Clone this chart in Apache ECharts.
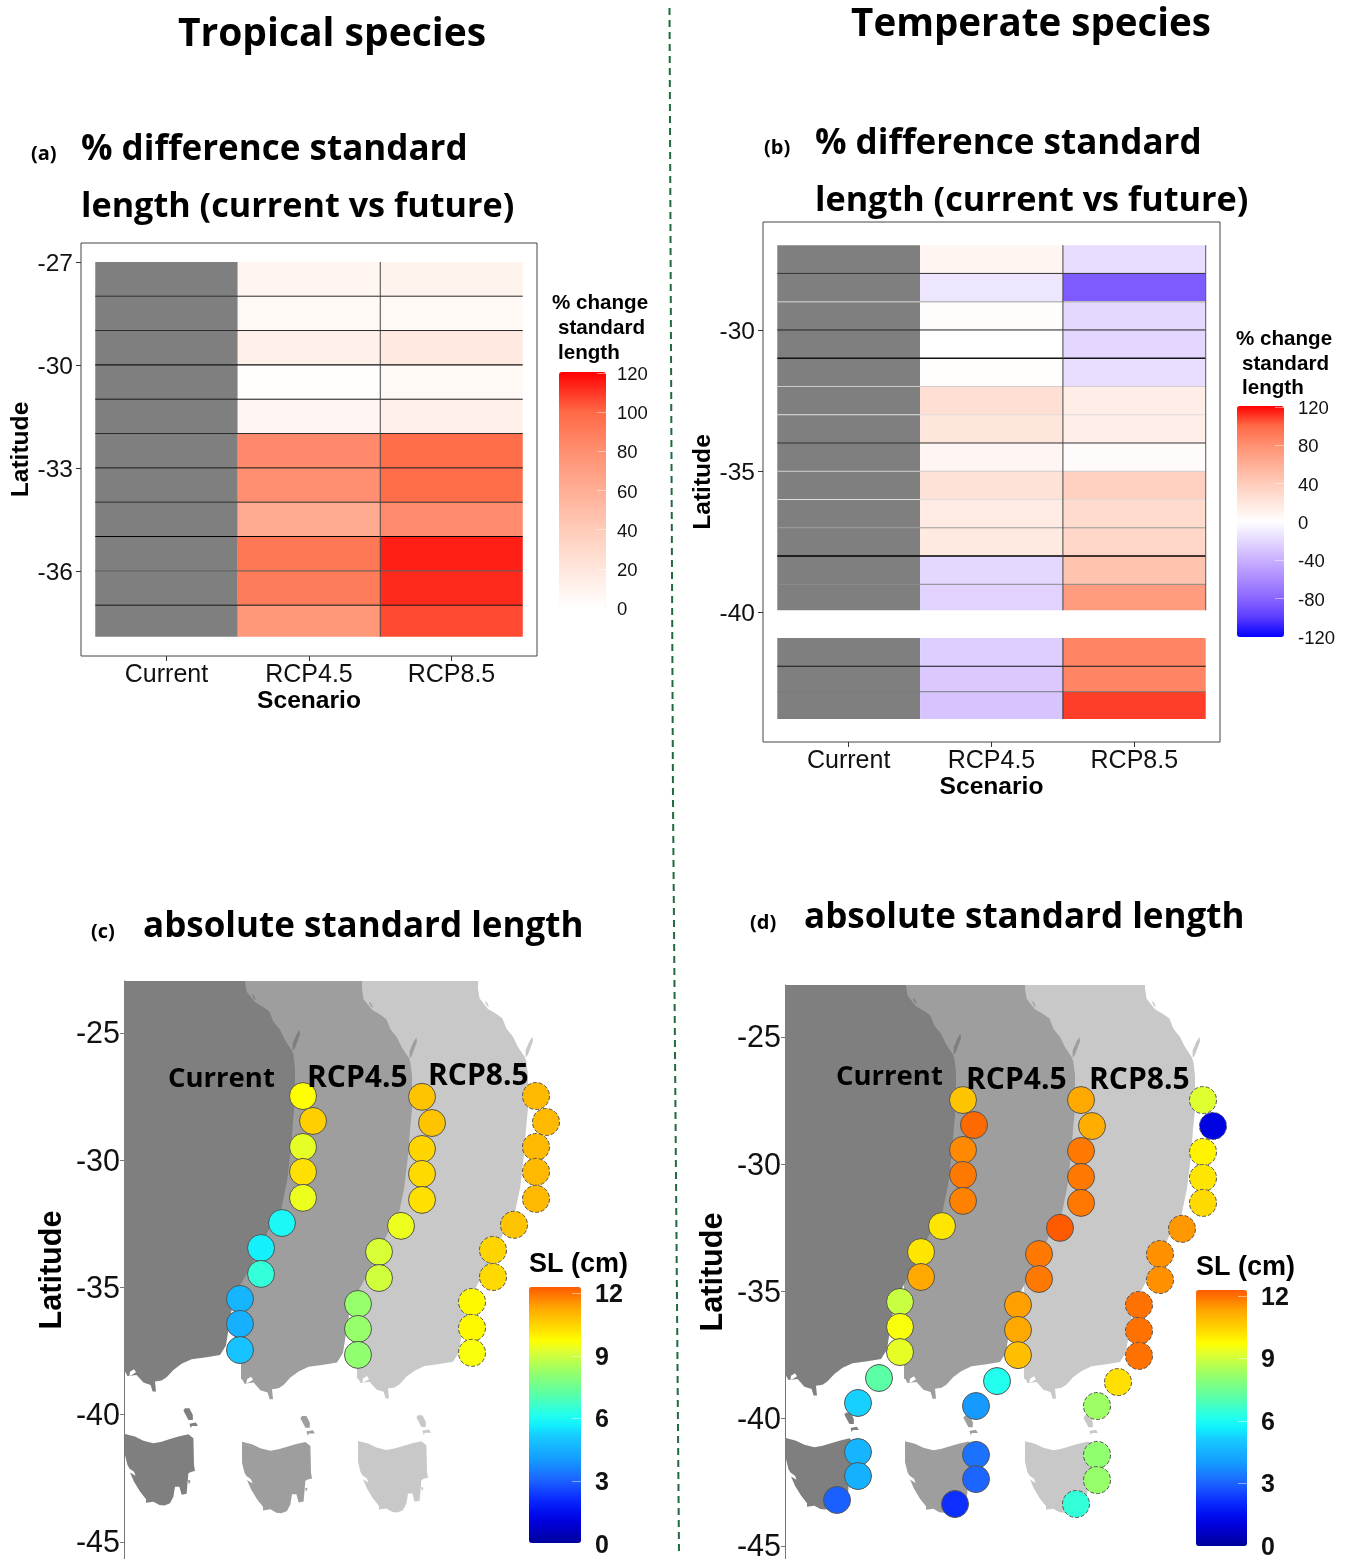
<!DOCTYPE html>
<html><head><meta charset="utf-8">
<style>html,body{margin:0;padding:0;background:#fff}#c{width:1348px;height:1559px}</style>
<script src="https://cdn.jsdelivr.net/npm/echarts@6/dist/echarts.min.js"></script>
</head><body><div id="c"></div>
<script>
// ---------- DATA ----------
const scenarios = ['Current', 'RCP4.5', 'RCP8.5'];
// panel (a) rows
const latEdgesA = [-27,-28,-29,-30,-31,-32,-33,-34,-35,-36,-37,-37.92];
const a45 = [8,5,12,1,7,83,80,62,92,90,75];
const a85 = [10,5,18,5,12,97,97,82,114,112,106];
const latTicksA = [-27,-30,-33,-36];
// panel (b) rows
const latTopB = [-27,-28,-29,-30,-31,-32,-33,-34,-35,-36,-37,-38,-39,-40.9,-41.9,-42.8];
const latBotB = [-28,-29,-30,-31,-32,-33,-34,-35,-36,-37,-38,-39,-39.92,-41.9,-42.8,-43.77];
const b45 = [8,-13,2,0,1,25,20,7,23,16,17,-20,-23,-25,-28,-30];
const b85 = [-18,-85,-20,-21,-17,14,13,3,36,28,32,45,72,85,85,108];
const latTicksB = [-30,-35,-40];
// panel (c) sites
const cLonCur = [152.95,153.45,152.95,152.95,152.95,151.9,150.85,150.85,149.8,149.8,149.8];
const cLatCur = [-27.48,-28.46,-29.48,-30.46,-31.48,-32.47,-33.45,-34.47,-35.45,-36.43,-37.46];
const cValCur = [9.5,10.3,9.1,10,9.2,5.8,5.6,6.3,4.5,4.4,4.8];
const cLon45 = [158.9,159.4,158.9,158.9,158.9,157.85,156.75,156.75,155.7,155.7,155.7];
const cLat45 = [-27.51,-28.54,-29.56,-30.54,-31.56,-32.58,-33.6,-34.63,-35.65,-36.63,-37.65];
const cVal45 = [10.5,10.5,10.2,10.1,10,9.2,8.9,8.8,8,8,7.9];
const cLon85 = [164.6,165.1,164.6,164.6,164.6,163.5,162.45,162.45,161.4,161.4,161.4];
const cLat85 = [-27.48,-28.5,-29.48,-30.46,-31.52,-32.54,-33.53,-34.59,-35.57,-36.59,-37.57];
const cVal85 = [10.7,10.7,10.7,10.7,10.7,10.5,10.2,10.1,9.6,9.6,9.4];
// panel (d) sites
const dLonCur = [152.9,153.45,152.9,152.9,152.9,151.85,150.8,150.8,149.75,149.75,149.75,148.7,147.65,147.65,147.65,146.6];
const dLatCur = [-27.48,-28.46,-29.44,-30.42,-31.44,-32.43,-33.45,-34.43,-35.41,-36.39,-37.38,-38.4,-39.38,-41.31,-42.25,-43.19];
const dValCur = [10.5,11.8,11.4,11.6,11.5,9.9,9.9,11,8.7,9.4,9.1,7,5.1,4.5,4.4,2.9];
const dLon45 = [158.8,159.35,158.8,158.8,158.8,157.75,156.7,156.7,155.65,155.65,155.65,154.6,153.55,153.55,153.55,152.5];
const dLat45 = [-27.48,-28.5,-29.48,-30.5,-31.52,-32.5,-33.53,-34.51,-35.53,-36.51,-37.5,-38.52,-39.5,-41.42,-42.37,-43.35];
const dVal45 = [11,10.9,11.6,11.6,11.6,12,11.6,11.6,11.1,11,10.6,6,3.9,3.2,3,2.1];
const dLon85 = [164.9,165.4,164.9,164.9,164.9,163.85,162.75,162.75,161.7,161.7,161.7,160.65,159.6,159.6,159.6,158.55];
const dLat85 = [-27.48,-28.5,-29.52,-30.54,-31.52,-32.54,-33.53,-34.55,-35.53,-36.55,-37.53,-38.56,-39.5,-41.42,-42.41,-43.35];
const dVal85 = [9,1.1,9.7,9.9,10.1,11.2,11.3,11.3,11.7,11.7,11.7,10,8.1,7.9,8,6.3];
const latTicksMap = [-25,-30,-35,-40,-45];
// coast outlines, lon/lat
const mainland = [[144,-22.5],[150.05,-22.5],[150.05,-22.98],[150.13,-23.38],[150.55,-23.79],[150.97,-23.99],[151.27,-24.16],[151.47,-24.56],[151.8,-24.88],[152.05,-25.28],[152.38,-25.67],[152.47,-25.86],[152.55,-26.39],[152.55,-26.91],[152.57,-27.54],[152.46,-28.43],[152.36,-29.46],[152.16,-30.79],[151.85,-31.97],[151.34,-32.56],[150.73,-33.59],[150.12,-34.48],[149.5,-35.37],[149.3,-36.25],[149.1,-37.28],[148.8,-37.65],[148.13,-37.74],[147.38,-37.82],[146.88,-38],[146.47,-38.24],[146.13,-38.53],[145.88,-38.66],[145.55,-38.7],[145.6,-39.09],[145.43,-39.09],[145.33,-38.83],[144.97,-38.74],[144.63,-38.44],[144.17,-38.48],[144.1,-38.37],[144.05,-38.31],[144,-38.31]];
const tasmania = [[144.05,-40.76],[144.55,-40.86],[144.97,-41.02],[145.47,-41.12],[145.88,-41.06],[146.3,-40.96],[146.72,-40.86],[147.22,-40.77],[147.47,-40.93],[147.5,-41.97],[147.55,-42.21],[147.38,-42.24],[147.22,-42.3],[147.13,-43.11],[146.88,-43.15],[146.77,-42.83],[146.55,-42.83],[146.47,-43.22],[146.3,-43.48],[146.02,-43.57],[145.77,-43.55],[145.47,-43.42],[145.1,-43.46],[145.1,-43.32],[144.8,-43.02],[144.5,-42.63],[144.3,-42.27],[144.58,-42.4],[144.5,-42.24],[144.27,-42.11],[144.17,-41.97],[144.05,-41.58]];
const flinders = [[147.05,-39.75],[147.27,-39.75],[147.44,-40.01],[147.44,-40.21],[147.22,-40.21],[146.97,-39.84]];
const barren = [[147.27,-40.36],[147.6,-40.31],[147.69,-40.44],[147.39,-40.44],[147.34,-40.53]];
const maria = [[147.2,-42.57],[147.33,-42.6],[147.25,-42.73]];
const fraser = [[152.77,-24.88],[152.8,-25.05],[152.55,-25.58],[152.43,-25.71],[152.43,-25.41],[152.63,-25.05]];
const curtis = [[150.38,-23.47],[150.5,-23.53],[150.6,-23.71],[150.5,-23.66]];
const bay = [[144.27,-38.48],[144.3,-38.31],[144.5,-38.21],[144.6,-38.33],[144.43,-38.42]];
const lands = [mainland, tasmania, flinders, barren, maria, fraser, curtis];

// ---------- STYLE ----------
const GREY='#7f7f7f';
const reds=['#ffffff','#ffe6dc','#ffcbb9','#ffae95','#ff8f70','#ff6845','#ff0000'];
const blueRed=['#0000ff','#5a3bff','#8a66ff','#ab8bff','#c9b0ff','#e5d8ff','#ffffff','#ffe6dc','#ffcbb9','#ffae95','#ff8f70','#ff6845','#ff0000'];
const jet=['#00009c','#0000bc','#0000dd','#0010f0','#0a28ff','#1347ff','#1c66ff','#1883ff','#14a0ff','#15b5ff','#17caff','#10eeff','#22ffee','#3effca','#5bffa5','#78ff88','#96ff6a','#baff4c','#dfff30','#ffff00','#ffe000','#ffc400','#ffa800','#ff8100','#ff5a00'];
const SANS='"Liberation Sans", Arial, sans-serif', HEAD='"Open Sans", sans-serif';

const grids=[],xAxes=[],yAxes=[],series=[],vms=[],gfx=[];
function addGrid(g,x,y){g.outerBoundsMode='none';grids.push(g);x.gridIndex=y.gridIndex=grids.length-1;xAxes.push(x);yAxes.push(y);return grids.length-1;}

function text(t,x,y,size,font,align){gfx.push({type:'text',x:x,y:y+(font===HEAD?2:1),z:100,style:{text:t,fontSize:size,fontFamily:font,fontWeight:'bold',fill:'#000',align:align||'left',verticalAlign:'middle'}});}
function nudgedLabel(size,bold,margin,ticks){
  const lab={margin:margin,formatter:'{a|{value}}',
    rich:{a:{fontSize:size,fontWeight:bold?'bold':'normal',fontFamily:SANS,color:'#111',padding:[4,0,0,0]}}};
  if(ticks) lab.customValues=ticks;
  return lab;
}

function rectSeries(gi,data,fixed){
  return {type:'custom',xAxisIndex:gi,yAxisIndex:gi,clip:true,silent:true,data:data,
    renderItem:function(p,api){
      const a=api.coord([api.value(0)-0.5,api.value(1)]),b=api.coord([api.value(0)+0.5,api.value(2)]);
      return {type:'rect',shape:{x:a[0],y:a[1],width:b[0]-a[0],height:b[1]-a[1]},style:{fill:fixed||api.visual('color')}};
    }};
}
function ruleSeries(gi,segs,shades,widths){
  return {type:'custom',xAxisIndex:gi,yAxisIndex:gi,silent:true,z:3,data:segs,
    renderItem:function(p,api){
      const a=api.coord([api.value(0),api.value(1)]),b=api.coord([api.value(2),api.value(3)]);
      return {type:'line',shape:{x1:a[0],y1:a[1],x2:b[0],y2:b[1]},style:{stroke:shades[p.dataIndex],lineWidth:widths?widths[p.dataIndex]:1}};
    }};
}
function legendAxis(box,min,max,step,size,bold,margin){
  addGrid(box,{type:'value',show:false,min:0,max:1,axisLine:{onZero:false}},
   {type:'value',position:'right',min:min,max:max,interval:step,z:6,
    axisLine:{show:false,onZero:false},splitLine:{show:false},
    axisTick:{show:true,inside:true,length:9,lineStyle:{color:'rgba(255,255,255,.45)',width:1}},
    axisLabel:nudgedLabel(size,bold,margin)});
}

function heatPanel(box,yMin,yMax,ticks,rows45,rows85,tops,bots,range,colors,gap,latGap){
  const gi=addGrid(Object.assign({show:true,borderColor:'#444',borderWidth:1,backgroundColor:'#fff'},box),
    {type:'value',min:-0.6,max:2.6,splitLine:{show:false},
     axisLine:{show:false,onZero:false},
     axisTick:{show:true,length:5,customValues:[0,1,2],lineStyle:{color:'#333'}},
     axisLabel:{fontSize:25,fontFamily:SANS,color:'#111',margin:7,customValues:[0,1,2],formatter:v=>scenarios[Math.round(v)]},
     name:'Scenario',nameLocation:'middle',nameGap:gap,nameTextStyle:{fontSize:24.6,fontWeight:'bold',fontFamily:SANS,color:'#000'}},
    {type:'value',min:yMin,max:yMax,splitLine:{show:false},axisLine:{show:false,onZero:false},
     axisTick:{show:true,length:5,customValues:ticks,lineStyle:{color:'#333'}},
     axisLabel:nudgedLabel(24.5,false,8,ticks),
     name:'Latitude',nameLocation:'middle',nameRotate:90,nameGap:latGap,nameTextStyle:{fontSize:24.6,fontWeight:'bold',fontFamily:SANS,color:'#000'}});
  series.push(rectSeries(gi,tops.map((t,i)=>[0,t,bots[i]]),GREY));
  const heat=[];
  tops.forEach((t,i)=>{heat.push([1,t,bots[i],rows45[i]]);heat.push([2,t,bots[i],rows85[i]]);});
  series.push(rectSeries(gi,heat));
  vms.push({seriesIndex:[series.length-1],dimension:3,min:range[0],max:range[1],inRange:{color:colors},show:false});
  return gi;
}
function legendBar(left,top,w,h){
  Object.assign(vms[vms.length-1],{show:true,left:left,top:top,itemWidth:w,itemHeight:h,padding:0,calculable:false,realtime:false,borderWidth:0});
}

// (a)
const giA=heatPanel({left:81,top:243,width:456,height:413},-38.48,-26.45,latTicksA,a45,a85,latEdgesA.slice(0,-1),latEdgesA.slice(1),[0,120],reds,33,46);
series.push(ruleSeries(giA,
  latEdgesA.slice(1,-1).map(l=>[-0.5,l,2.5,l]).concat([[1.5,-27,1.5,-37.92]]),
  ['#2a2a2a','#2a2a2a','#111','#111','#2a2a2a','#111','#2a2a2a','#000','#555','#111','#444'],
  [1,1,1.4,1,1,1,1,1,1,1,1]));
legendBar(559,372,47,236);
legendAxis({left:559,top:373,width:47,height:235},0,120,20,18.5,false,11);

// (b)
const giB=heatPanel({left:763,top:222,width:457,height:520},-44.58,-26.18,latTicksB,b45,b85,latTopB,latBotB,[-120,120],blueRed,33,47);
series.push(ruleSeries(giB,
  [-28,-29,-30,-31,-32,-33,-34,-35,-36,-37,-38,-39,-41.9,-42.8].map(l=>[-0.5,l,2.5,l]).concat([[1.5,-27,1.5,-39.92],[1.5,-40.9,1.5,-43.77],[2.5,-27,2.5,-39.92]]),
  ['#333','#bbb','#222','#111','#ccc','#ddd','#333','#ccc','#ddd','#999','#000','#888','#111','#777','#444','#333','#555'],
  [1,1.5,1,1.5,1,1,1,1,1,1,1.6,1,1,1,1,1,1]));
legendBar(1237,406,47,231);
legendAxis({left:1237,top:407,width:47,height:230},-120,120,40,18.5,false,14);

// maps
function mapPanel(box,yMin,yMax,shift,drop,sets,bar,barAxis){
  const gi=addGrid(box,{type:'value',show:false,min:144,max:170},
    {type:'value',min:yMin,max:yMax,splitLine:{show:false},
     axisLine:{show:true,onZero:false,lineStyle:{color:'#777',width:1}},
     axisTick:{show:true,length:4,customValues:latTicksMap,lineStyle:{color:'#777'}},
     axisLabel:nudgedLabel(30.5,false,4,latTicksMap),
     name:'Latitude',nameLocation:'middle',nameRotate:90,nameGap:56,nameTextStyle:{fontSize:30.6,fontWeight:'bold',fontFamily:SANS,color:'#000'}});
  const fills=['#c8c8c8','#9e9e9e','#7f7f7f'];
  [2,1,0].forEach((copy,k)=>{
    const polys=lands.concat([bay]);
    series.push({type:'custom',xAxisIndex:gi,yAxisIndex:gi,clip:true,silent:true,
      data:polys.map((_,i)=>[i,0]),
      renderItem:function(p,api){
        const poly=polys[api.value(0)];
        return {type:'polygon',shape:{points:poly.map(q=>api.coord([q[0]+shift[copy],q[1]+drop[copy]]))},
                style:{fill:poly===bay?'#fff':fills[k]}};
      }});
  });
  const ids=[];
  sets.forEach((s,i)=>{
    series.push({type:'scatter',xAxisIndex:gi,yAxisIndex:gi,symbol:'circle',symbolSize:27,silent:true,z:4,
      data:s[0].map((x,j)=>[x,s[1][j],s[2][j]]),
      itemStyle:{opacity:1,borderColor:'#555',borderWidth:1,borderType:i===2?[4,2]:'solid'}});
    ids.push(series.length-1);
  });
  vms.push({seriesIndex:ids,dimension:2,min:0,max:12,inRange:{color:jet},show:true,left:bar[0],top:bar[1],itemWidth:bar[2],itemHeight:bar[3],padding:0,calculable:false,realtime:false,borderWidth:0});
  legendAxis(barAxis,0,12,3,25,true,14);
}
mapPanel({left:124,top:981,width:520,height:578},-45.67,-22.96,[0,5.85,11.65],[0,-0.3,-0.27],
  [[cLonCur,cLatCur,cValCur],[cLon45,cLat45,cVal45],[cLon85,cLat85,cVal85]],[529,1287,52,256],{left:529,top:1293,width:52,height:251});
mapPanel({left:785,top:985,width:520,height:574},-45.51,-22.96,[0,5.95,11.95],[0,-0.12,-0.12],
  [[dLonCur,dLatCur,dValCur],[dLon45,dLat45,dVal45],[dLon85,dLat85,dVal85]],[1196,1290,51,256],{left:1196,top:1296,width:51,height:250});

// ---------- TEXT ----------
text('Tropical species',332,33,39,HEAD,'center');
text('Temperate species',1031,23,38.5,HEAD,'center');
text('(a)',31,152,20,HEAD);
text('% difference standard',81,148,35,HEAD);
text('length (current vs future)',81,205,34.2,HEAD);
text('(b)',764,146,20,HEAD);
text('% difference standard',815,142,35,HEAD);
text('length (current vs future)',815,199,34.2,HEAD);
text('(c)',91,930,20,HEAD);
text('absolute standard length',143,925,35,HEAD);
text('(d)',750,921,20,HEAD);
text('absolute standard length',804,916,35,HEAD);
text('% change',552,302,20.6,SANS);text('standard',558,327,20.6,SANS);text('length',558,352,20.6,SANS);
text('% change',1236,338,20.6,SANS);text('standard',1242,363,20.6,SANS);text('length',1242,387,20.6,SANS);
gfx.push({type:'text',x:529,y:1265,z:100,style:{text:'SL (cm)',fontSize:27,fontFamily:SANS,fontWeight:'bold',fill:'#000',align:'left',verticalAlign:'middle'}});
gfx.push({type:'text',x:1196,y:1268,z:100,style:{text:'SL (cm)',fontSize:27,fontFamily:SANS,fontWeight:'bold',fill:'#000',align:'left',verticalAlign:'middle'}});
text('Current',168,1077,27.5,HEAD);text('RCP4.5',307,1076,30,HEAD);text('RCP8.5',428,1074,30,HEAD);
text('Current',836,1075,27.5,HEAD);text('RCP4.5',966,1078,30,HEAD);text('RCP8.5',1089,1078,30,HEAD);
gfx.push({type:'polyline',z:100,shape:{points:[[669.5,8],[673,800],[679,1553]]},style:{stroke:'#1f6b3b',lineWidth:2,fill:null,lineDash:[7,5]}});

const chart=echarts.init(document.getElementById('c'),null,{renderer:'canvas'});
chart.setOption({animation:false,backgroundColor:'#fff',tooltip:{show:false},
  grid:grids,xAxis:xAxes,yAxis:yAxes,visualMap:vms,series:series,graphic:{elements:gfx}});
</script></body></html>
